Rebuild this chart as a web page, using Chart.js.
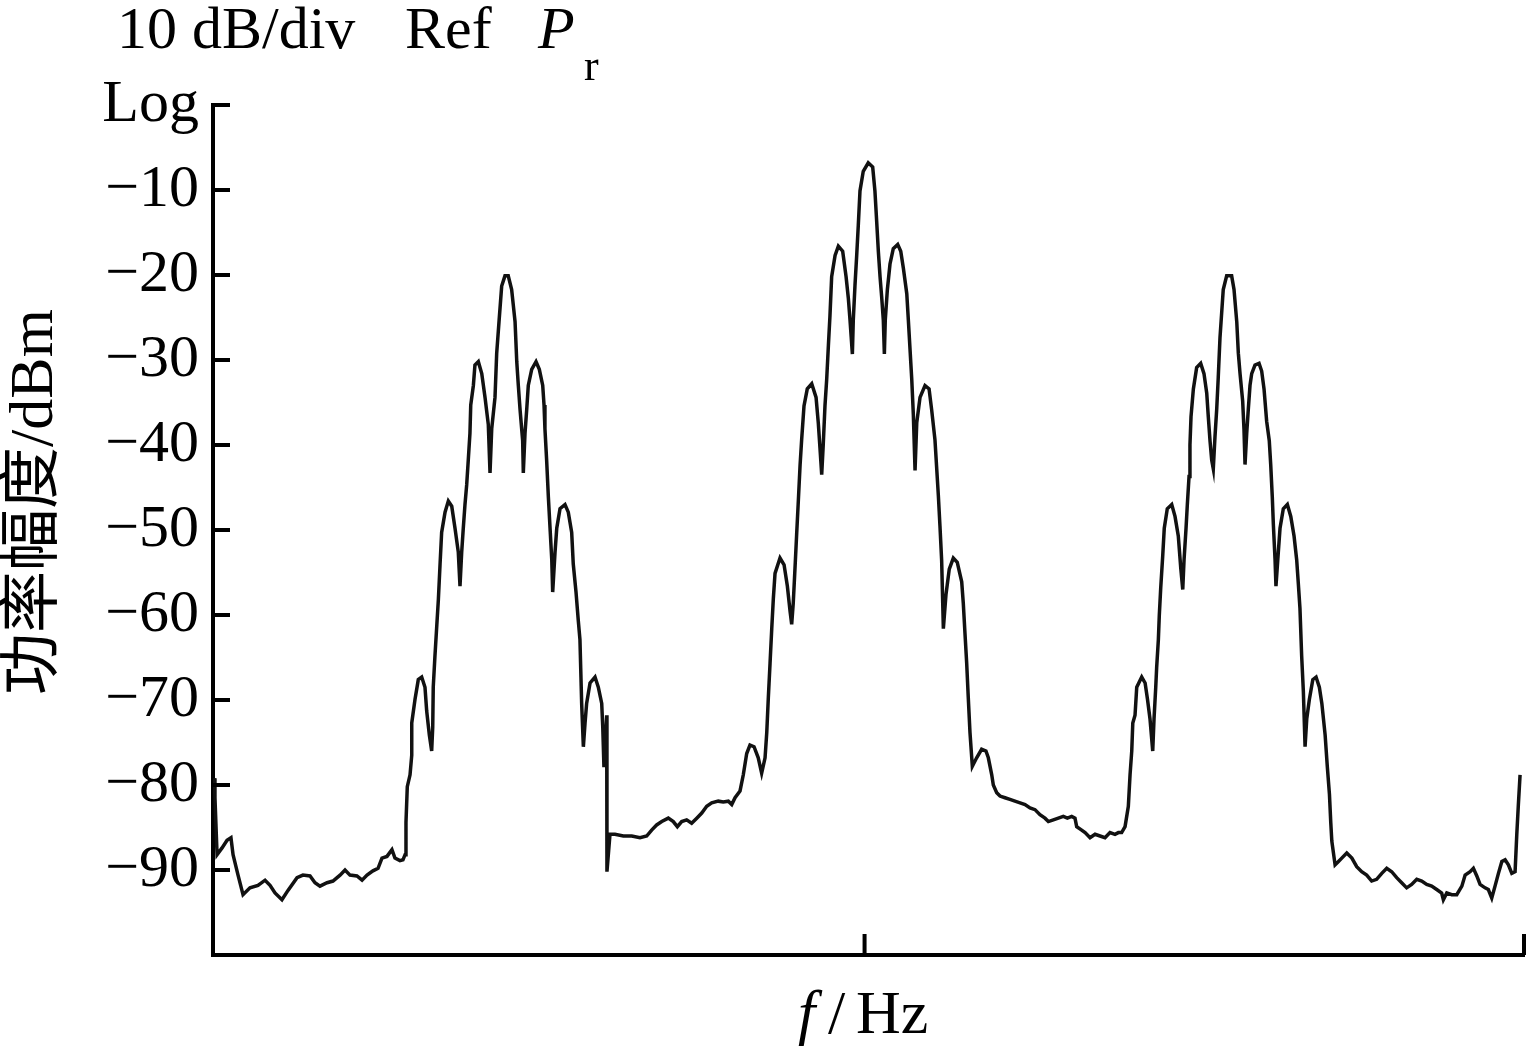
<!DOCTYPE html>
<html>
<head>
<meta charset="utf-8">
<script src="https://cdn.jsdelivr.net/npm/chart.js@4.4.1/dist/chart.umd.min.js"></script>
<style>
  html, body { margin: 0; padding: 0; background: #fff; }
  #wrap { position: relative; width: 1527px; height: 1050px; }
</style>
</head>
<body>
<div id="wrap"><canvas id="spec" width="1527" height="1050"></canvas></div>
<script>
/* ── Data: spectrum trace (arbitrary frequency units, dBm) ── */
const freq = [
  0.8, 1.5, 3.1, 6.9, 10.7, 13.7, 15.3, 19.1, 22.9, 28.2, 34.3, 39.7, 43.5, 47.3, 52.6, 57.2,
  64.1, 68.6, 74.0, 77.8, 81.6, 87.0, 91.5, 96.9, 100.7, 104.5, 109.8, 113.7, 117.5, 122.0, 125.9, 128.9,
  132.7, 136.5, 138.8, 142.6, 144.9, 146.5, 147.2, 148.2, 150.3, 151.6, 151.6, 154.1, 156.6, 159.2, 161.7, 163.0,
  165.0, 166.8, 167.6, 168.0, 169.3, 170.6, 171.9, 173.2, 174.4, 177.0, 179.5, 182.1, 184.6, 187.1, 188.4, 189.7,
  190.9, 192.2, 193.5, 194.7, 196.0, 196.6, 198.6, 199.8, 202.4, 205.0, 207.5, 210.0, 211.3, 212.6, 215.1, 216.4,
  218.4, 220.2, 222.7, 225.2, 227.8, 229.1, 230.4, 231.7, 232.9, 234.2, 236.2, 236.7, 238.0, 239.3, 240.5, 243.1,
  246.4, 248.9, 251.5, 252.5, 253.2, 254.5, 255.8, 257.1, 258.4, 259.1, 260.9, 262.2, 264.7, 268.5, 271.0, 273.6,
  274.8, 276.9, 278.6, 279.9, 281.2, 282.5, 283.8, 285.0, 287.6, 291.4, 293.9, 296.5, 297.3, 298.2, 300.3, 300.5,
  302.8, 306.6, 313.0, 319.4, 325.7, 330.8, 334.6, 338.4, 342.3, 347.3, 351.1, 354.2, 357.5, 361.3, 365.1, 369.0,
  372.8, 376.6, 380.4, 385.4, 389.2, 393.1, 395.7, 398.2, 402.0, 404.5, 407.1, 409.6, 412.7, 415.9, 418.5, 421.1,
  422.4, 423.6, 424.9, 426.2, 427.4, 428.7, 432.5, 435.6, 438.1, 440.2, 441.4, 442.6, 443.9, 445.2, 446.5, 447.8,
  449.0, 450.8, 453.3, 456.7, 460.0, 461.7, 463.0, 464.3, 465.5, 466.8, 468.1, 469.4, 470.6, 471.9, 474.5, 477.0,
  480.3, 482.9, 484.6, 485.9, 487.7, 488.4, 489.7, 491.0, 492.2, 493.5, 496.0, 499.8, 503.2, 504.9, 506.2, 507.5,
  508.8, 510.1, 511.3, 512.1, 512.8, 514.4, 516.4, 518.9, 522.3, 524.6, 526.6, 529.2, 530.4, 531.7, 533.0, 534.2,
  535.5, 536.8, 539.3, 543.1, 546.2, 548.2, 550.7, 553.3, 554.5, 555.8, 557.1, 559.1, 561.6, 564.7, 567.7, 571.1,
  572.3, 573.6, 574.9, 576.1, 577.4, 579.2, 582.5, 586.3, 589.6, 591.4, 594.0, 595.2, 597.8, 600.3, 604.1, 607.9,
  611.7, 615.6, 619.4, 623.2, 627.0, 630.8, 634.6, 637.2, 641.0, 644.8, 648.6, 651.7, 655.0, 657.5, 658.8, 662.6,
  665.2, 669.0, 672.8, 676.6, 680.4, 684.2, 688.0, 690.6, 693.1, 695.7, 698.2, 699.5, 700.8, 701.6, 703.3, 704.6,
  708.4, 711.0, 712.8, 714.7, 716.8, 717.8, 719.1, 719.8, 721.1, 721.8, 722.9, 724.4, 725.6, 727.9, 731.3, 733.8,
  736.3, 738.2, 739.7, 740.7, 742.2, 743.2, 744.5, 745.2, 746.0, 747.8, 750.3, 753.4, 755.9, 758.0, 759.2, 760.5,
  761.8, 763.0, 764.3, 765.6, 766.8, 768.1, 770.6, 773.2, 777.0, 778.8, 780.9, 782.1, 783.4, 785.4, 786.4, 787.2,
  788.5, 789.7, 791.0, 792.3, 794.8, 797.9, 799.9, 801.7, 803.7, 805.7, 806.8, 808.0, 808.8, 810.1, 810.8, 812.6,
  813.9, 816.4, 819.5, 822.1, 824.6, 826.6, 827.9, 829.1, 830.4, 831.7, 833.0, 834.3, 836.3, 838.9, 841.4, 843.9,
  845.8, 848.3, 850.0, 851.6, 852.6, 853.4, 855.9, 858.5, 861.0, 864.8, 868.7, 872.4, 876.2, 880.0, 883.8, 887.6,
  891.5, 895.3, 899.1, 902.9, 906.7, 910.5, 914.3, 918.2, 922.0, 925.8, 929.6, 933.4, 937.2, 938.5, 941.1, 944.9,
  948.7, 952.6, 955.1, 958.9, 961.4, 964.0, 966.5, 970.3, 972.8, 975.4, 977.9, 980.5, 983.1, 985.6, 988.1, 990.7,
  993.2, 994.5, 995.7, 997.0
];

const power = [
  -79.2, -81.5, -88.2, -87.4, -86.5, -86.2, -88.2, -90.6, -92.9, -92.1, -91.8, -91.2, -91.8, -92.7, -93.5, -92.4,
  -90.9, -90.6, -90.7, -91.5, -91.9, -91.5, -91.3, -90.6, -90.0, -90.6, -90.7, -91.2, -90.6, -90.1, -89.8, -88.6,
  -88.4, -87.6, -88.6, -88.9, -88.8, -88.2, -84.4, -80.2, -78.8, -76.5, -72.7, -69.9, -67.6, -67.3, -68.5, -71.3,
  -74.1, -76.0, -73.2, -68.5, -64.8, -61.5, -58.2, -54.0, -50.3, -47.9, -46.6, -47.2, -49.8, -52.6, -56.6, -52.6,
  -49.8, -47.0, -44.7, -41.8, -38.6, -35.3, -33.0, -30.6, -30.2, -31.6, -34.4, -37.6, -43.3, -38.1, -34.4, -29.2,
  -25.0, -21.3, -20.1, -20.1, -21.7, -23.6, -25.5, -30.2, -33.0, -35.8, -39.5, -43.3, -38.6, -35.8, -33.0, -31.1,
  -30.2, -31.1, -33.0, -35.3, -38.1, -41.8, -46.1, -49.8, -53.5, -57.3, -52.6, -49.8, -47.5, -47.0, -47.9, -50.3,
  -54.0, -57.3, -60.6, -62.9, -70.4, -75.5, -72.7, -70.4, -68.0, -67.3, -68.5, -70.4, -73.2, -77.9, -71.8, -90.2,
  -85.8, -85.8, -86.0, -86.0, -86.2, -86.0, -85.3, -84.7, -84.3, -83.9, -84.3, -84.9, -84.3, -84.1, -84.5, -83.9,
  -83.3, -82.5, -82.1, -81.9, -82.0, -81.9, -82.3, -81.5, -80.7, -78.8, -76.3, -75.3, -75.5, -76.8, -78.6, -76.8,
  -73.8, -69.7, -65.7, -61.6, -58.1, -55.1, -53.3, -54.1, -56.6, -59.6, -61.1, -58.6, -54.6, -50.5, -46.5, -42.4,
  -39.4, -35.4, -33.4, -32.8, -34.4, -37.4, -40.4, -43.5, -39.9, -35.4, -32.3, -28.3, -24.8, -20.2, -17.7, -16.6,
  -17.2, -20.2, -22.7, -25.3, -29.3, -25.3, -21.2, -17.7, -14.2, -10.1, -7.8, -6.8, -7.3, -10.1, -13.6, -17.2,
  -20.2, -22.7, -25.3, -29.3, -25.3, -21.7, -18.7, -16.9, -16.4, -17.2, -19.2, -22.2, -25.3, -28.8, -32.3, -36.4,
  -43.0, -37.4, -34.4, -33.0, -33.4, -35.9, -39.4, -46.0, -49.5, -53.6, -61.6, -57.6, -54.6, -53.3, -53.8, -56.1,
  -58.6, -62.2, -65.7, -69.7, -73.8, -77.8, -76.8, -75.8, -76.0, -76.8, -78.8, -80.0, -80.9, -81.3, -81.5, -81.7,
  -81.9, -82.1, -82.3, -82.7, -82.9, -83.5, -83.9, -84.3, -84.1, -83.9, -83.7, -83.9, -83.7, -83.9, -84.9, -85.3,
  -85.6, -86.2, -85.8, -86.0, -86.2, -85.6, -85.8, -85.6, -85.6, -84.9, -82.5, -78.8, -76.0, -72.7, -71.8, -68.5,
  -67.3, -68.0, -69.9, -72.2, -76.0, -72.2, -68.5, -66.2, -62.9, -60.1, -56.8, -53.1, -49.8, -47.5, -47.0, -48.4,
  -50.7, -54.5, -57.0, -53.5, -49.8, -47.0, -43.7, -40.0, -36.7, -33.4, -30.9, -30.4, -31.6, -33.9, -36.7, -39.5,
  -41.8, -42.8, -39.0, -35.8, -32.0, -27.4, -21.7, -20.1, -20.1, -21.7, -25.5, -29.2, -31.6, -34.8, -38.1, -42.3,
  -38.6, -35.8, -33.0, -31.6, -30.6, -30.4, -31.3, -33.4, -37.2, -39.5, -42.3, -46.1, -49.3, -53.5, -56.6, -52.6,
  -49.8, -47.5, -47.0, -48.4, -50.7, -53.5, -56.4, -59.2, -64.8, -69.0, -75.5, -72.2, -69.9, -67.6, -67.3, -68.5,
  -70.4, -74.1, -77.9, -81.1, -84.4, -86.6, -89.4, -89.0, -88.6, -88.0, -88.6, -89.6, -90.2, -90.6, -91.3, -91.1,
  -90.4, -89.8, -90.2, -90.9, -91.5, -92.1, -91.7, -91.1, -91.3, -91.7, -91.9, -92.3, -92.7, -93.5, -92.7, -92.9,
  -92.9, -91.9, -90.6, -90.2, -89.8, -90.7, -91.7, -92.1, -92.3, -93.3, -91.9, -90.4, -89.0, -88.8, -89.4, -90.4,
  -90.2, -85.8, -82.3, -78.8
];

/* Axis ticks */
const yTickValues = [0, -10, -20, -30, -40, -50, -60, -70, -80, -90];
const xTickValues = [497, 1000];
const yMin = -100, yMax = 0, xMin = 0, xMax = 1000;

const SERIF = '"Liberation Serif", "Times New Roman", serif';
const CJK   = '"Liberation Serif", "Noto Sans CJK SC", serif';

/* Inward tick marks, drawn with the scales' own pixel mapping */
const tickMarks = {
  id: 'tickMarks',
  afterDraw(chart) {
    const { ctx, scales: { x, y }, chartArea: a } = chart;
    ctx.save();
    ctx.strokeStyle = '#000';
    ctx.lineWidth = 4;
    ctx.beginPath();
    yTickValues.forEach(v => {
      const py = y.getPixelForValue(v);
      ctx.moveTo(a.left, py); ctx.lineTo(a.left + 17, py);
    });
    xTickValues.forEach(v => {
      const px = x.getPixelForValue(v);
      ctx.moveTo(px, a.bottom); ctx.lineTo(px, a.bottom - 21);
    });
    ctx.stroke();
    ctx.restore();
  }
};

/* Header, axis titles */
const labels = {
  id: 'labels',
  afterDraw(chart) {
    const ctx = chart.ctx;
    ctx.save();
    ctx.fillStyle = '#000';
    ctx.textBaseline = 'alphabetic';
    ctx.textAlign = 'left';

    ctx.font = `60px ${SERIF}`;
    ctx.fillText('10 dB/div', 117, 48);
    ctx.fillText('Ref', 405, 48);
    ctx.font = `italic 60px ${SERIF}`;
    ctx.fillText('P', 538, 48);
    ctx.font = `44px ${SERIF}`;
    ctx.fillText('r', 584, 80);

    // x title: f/Hz
    ctx.font = `italic 62px ${SERIF}`;
    ctx.fillText('f', 798, 1033);
    ctx.font = `62px ${SERIF}`;
    ctx.fillText('/', 828, 1033);
    ctx.fillText('Hz', 856, 1033);

    // y title
    ctx.translate(36, 502);
    ctx.rotate(-Math.PI / 2);
    ctx.textAlign = 'center';
    ctx.textBaseline = 'middle';
    ctx.font = `62px ${CJK}`;
    ctx.fillText('功率幅度/dBm', 0, 0);
    ctx.restore();
  }
};

const points = freq.map((f, i) => ({ x: f, y: power[i] }));

new Chart(document.getElementById('spec'), {
  type: 'line',
  data: {
    datasets: [{
      data: points,
      borderColor: '#111',
      borderWidth: 3.5,
      pointRadius: 0,
      tension: 0,
      fill: false,
    }],
  },
  options: {
    responsive: false,
    animation: false,
    events: [],
    layout: { padding: { top: 105, right: 3, left: 0, bottom: 0 } },
    plugins: { legend: { display: false }, tooltip: { enabled: false }, title: { display: false } },
    scales: {
      x: {
        type: 'linear',
        min: xMin, max: xMax,
        grid: { display: false },
        border: { display: true, color: '#000', width: 4 },
        ticks: { display: false },
        afterFit: s => { s.height = 95; },
      },
      y: {
        min: yMin, max: yMax,
        grid: { display: false, drawTicks: false },
        border: { display: true, color: '#000', width: 4 },
        ticks: {
          stepSize: 10,
          autoSkip: false,
          padding: 14,
          color: '#000',
          font: { family: SERIF, size: 60 },
          callback: v => v === 0 ? 'Log' : (v === yMin ? '' : '\u2212' + Math.abs(v)),
        },
        afterFit: s => { s.width = 213; },
      },
    },
  },
  plugins: [tickMarks, labels],
});
</script>
</body>
</html>
